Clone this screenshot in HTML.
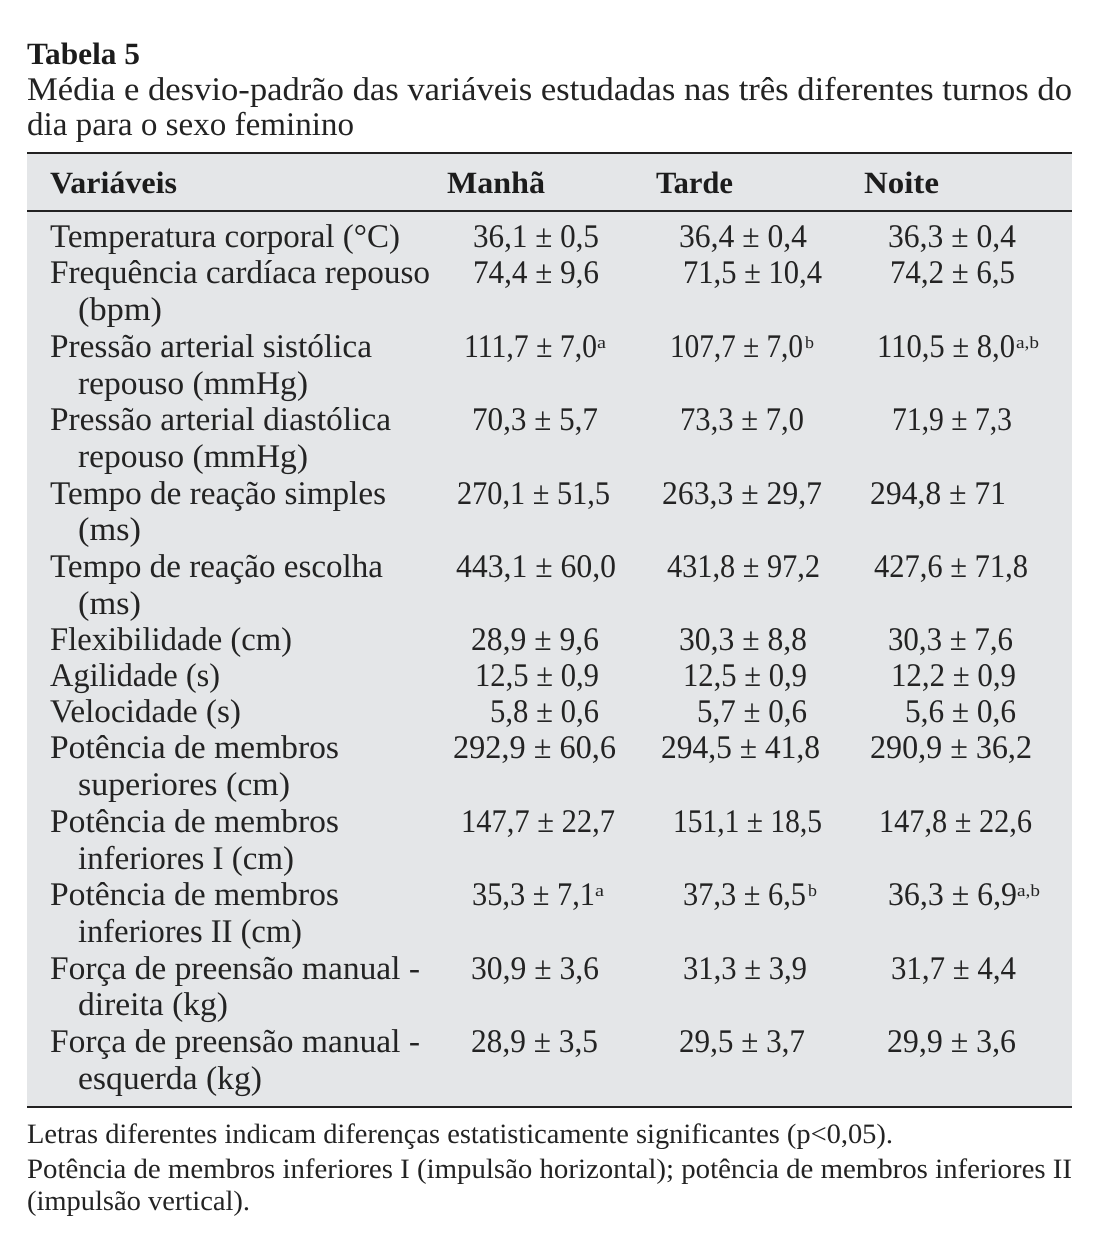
<!DOCTYPE html>
<html lang="pt">
<head>
<meta charset="utf-8">
<title>Tabela 5</title>
<style>
html,body{margin:0;padding:0;background:#fff;width:1108px;height:1254px;overflow:hidden}
svg{display:block}
text{font-family:"Liberation Serif",serif;font-size:33px;fill:#232323;white-space:pre}
.t{font-weight:bold;font-size:31px;fill:#1c1c1c}
.f{font-size:28px}
.s{font-size:17px}
</style>
</head>
<body>
<svg width="1108" height="1254" viewBox="0 0 1108 1254" xmlns="http://www.w3.org/2000/svg" text-rendering="geometricPrecision">
<rect x="27" y="153" width="1045" height="954" fill="#e4e6e8"/>
<rect x="27" y="152" width="1045" height="2" fill="#222"/>
<rect x="27" y="210" width="1045" height="2" fill="#222"/>
<rect x="27" y="1106" width="1045" height="2" fill="#222"/>

<text class="t" x="27" y="64" textLength="113" lengthAdjust="spacingAndGlyphs">Tabela 5</text>
<text x="27" y="100" textLength="1045" lengthAdjust="spacingAndGlyphs">Média e desvio-padrão das variáveis estudadas nas três diferentes turnos do</text>
<text x="27" y="135" textLength="327" lengthAdjust="spacingAndGlyphs">dia para o sexo feminino</text>

<text class="t" x="50" y="193" textLength="127" lengthAdjust="spacingAndGlyphs">Variáveis</text>
<text class="t" x="447" y="193" textLength="98" lengthAdjust="spacingAndGlyphs">Manhã</text>
<text class="t" x="656" y="193" textLength="77" lengthAdjust="spacingAndGlyphs">Tarde</text>
<text class="t" x="864" y="193" textLength="75" lengthAdjust="spacingAndGlyphs">Noite</text>

<text x="50" y="247" textLength="350" lengthAdjust="spacingAndGlyphs">Temperatura corporal (°C)</text>
<text x="473" y="247" textLength="126" lengthAdjust="spacingAndGlyphs">36,1 ± 0,5</text>
<text x="679" y="247" textLength="128" lengthAdjust="spacingAndGlyphs">36,4 ± 0,4</text>
<text x="888" y="247" textLength="128" lengthAdjust="spacingAndGlyphs">36,3 ± 0,4</text>

<text x="50" y="283" textLength="380" lengthAdjust="spacingAndGlyphs">Frequência cardíaca repouso</text>
<text x="78" y="320" textLength="84" lengthAdjust="spacingAndGlyphs">(bpm)</text>
<text x="473" y="283" textLength="126" lengthAdjust="spacingAndGlyphs">74,4 ± 9,6</text>
<text x="683" y="283" textLength="139" lengthAdjust="spacingAndGlyphs">71,5 ± 10,4</text>
<text x="890" y="283" textLength="125" lengthAdjust="spacingAndGlyphs">74,2 ± 6,5</text>

<text x="50" y="357" textLength="322" lengthAdjust="spacingAndGlyphs">Pressão arterial sistólica</text>
<text x="78" y="394" textLength="230" lengthAdjust="spacingAndGlyphs">repouso (mmHg)</text>
<text x="464" y="357" textLength="133" lengthAdjust="spacingAndGlyphs">111,7 ± 7,0</text>
<text class="s" x="597" y="348" textLength="9" lengthAdjust="spacingAndGlyphs">a</text>
<text x="670" y="357" textLength="133" lengthAdjust="spacingAndGlyphs">107,7 ± 7,0</text>
<text class="s" x="805" y="348" textLength="9" lengthAdjust="spacingAndGlyphs">b</text>
<text x="877" y="357" textLength="138" lengthAdjust="spacingAndGlyphs">110,5 ± 8,0</text>
<text class="s" x="1016" y="348" textLength="23" lengthAdjust="spacingAndGlyphs">a,b</text>

<text x="50" y="430" textLength="341" lengthAdjust="spacingAndGlyphs">Pressão arterial diastólica</text>
<text x="78" y="467" textLength="230" lengthAdjust="spacingAndGlyphs">repouso (mmHg)</text>
<text x="472" y="430" textLength="126" lengthAdjust="spacingAndGlyphs">70,3 ± 5,7</text>
<text x="680" y="430" textLength="124" lengthAdjust="spacingAndGlyphs">73,3 ± 7,0</text>
<text x="892" y="430" textLength="120" lengthAdjust="spacingAndGlyphs">71,9 ± 7,3</text>

<text x="50" y="504" textLength="336" lengthAdjust="spacingAndGlyphs">Tempo de reação simples</text>
<text x="78" y="540" textLength="63" lengthAdjust="spacingAndGlyphs">(ms)</text>
<text x="457" y="504" textLength="153" lengthAdjust="spacingAndGlyphs">270,1 ± 51,5</text>
<text x="662" y="504" textLength="160" lengthAdjust="spacingAndGlyphs">263,3 ± 29,7</text>
<text x="870" y="504" textLength="136" lengthAdjust="spacingAndGlyphs">294,8 ± 71</text>

<text x="50" y="577" textLength="333" lengthAdjust="spacingAndGlyphs">Tempo de reação escolha</text>
<text x="78" y="614" textLength="63" lengthAdjust="spacingAndGlyphs">(ms)</text>
<text x="456" y="577" textLength="160" lengthAdjust="spacingAndGlyphs">443,1 ± 60,0</text>
<text x="667" y="577" textLength="153" lengthAdjust="spacingAndGlyphs">431,8 ± 97,2</text>
<text x="874" y="577" textLength="154" lengthAdjust="spacingAndGlyphs">427,6 ± 71,8</text>

<text x="50" y="650" textLength="242" lengthAdjust="spacingAndGlyphs">Flexibilidade (cm)</text>
<text x="471" y="650" textLength="128" lengthAdjust="spacingAndGlyphs">28,9 ± 9,6</text>
<text x="679" y="650" textLength="128" lengthAdjust="spacingAndGlyphs">30,3 ± 8,8</text>
<text x="888" y="650" textLength="125" lengthAdjust="spacingAndGlyphs">30,3 ± 7,6</text>

<text x="50" y="686" textLength="170" lengthAdjust="spacingAndGlyphs">Agilidade (s)</text>
<text x="475" y="686" textLength="124" lengthAdjust="spacingAndGlyphs">12,5 ± 0,9</text>
<text x="683" y="686" textLength="124" lengthAdjust="spacingAndGlyphs">12,5 ± 0,9</text>
<text x="891" y="686" textLength="125" lengthAdjust="spacingAndGlyphs">12,2 ± 0,9</text>

<text x="50" y="722" textLength="191" lengthAdjust="spacingAndGlyphs">Velocidade (s)</text>
<text x="490" y="722" textLength="109" lengthAdjust="spacingAndGlyphs">5,8 ± 0,6</text>
<text x="697" y="722" textLength="110" lengthAdjust="spacingAndGlyphs">5,7 ± 0,6</text>
<text x="905" y="722" textLength="111" lengthAdjust="spacingAndGlyphs">5,6 ± 0,6</text>

<text x="50" y="758" textLength="289" lengthAdjust="spacingAndGlyphs">Potência de membros</text>
<text x="78" y="795" textLength="212" lengthAdjust="spacingAndGlyphs">superiores (cm)</text>
<text x="453" y="758" textLength="163" lengthAdjust="spacingAndGlyphs">292,9 ± 60,6</text>
<text x="661" y="758" textLength="159" lengthAdjust="spacingAndGlyphs">294,5 ± 41,8</text>
<text x="870" y="758" textLength="162" lengthAdjust="spacingAndGlyphs">290,9 ± 36,2</text>

<text x="50" y="832" textLength="289" lengthAdjust="spacingAndGlyphs">Potência de membros</text>
<text x="78" y="869" textLength="216" lengthAdjust="spacingAndGlyphs">inferiores I (cm)</text>
<text x="461" y="832" textLength="154" lengthAdjust="spacingAndGlyphs">147,7 ± 22,7</text>
<text x="673" y="832" textLength="149" lengthAdjust="spacingAndGlyphs">151,1 ± 18,5</text>
<text x="879" y="832" textLength="153" lengthAdjust="spacingAndGlyphs">147,8 ± 22,6</text>

<text x="50" y="905" textLength="289" lengthAdjust="spacingAndGlyphs">Potência de membros</text>
<text x="78" y="942" textLength="224" lengthAdjust="spacingAndGlyphs">inferiores II (cm)</text>
<text x="472" y="905" textLength="123" lengthAdjust="spacingAndGlyphs">35,3 ± 7,1</text>
<text class="s" x="595" y="896" textLength="9" lengthAdjust="spacingAndGlyphs">a</text>
<text x="683" y="905" textLength="123" lengthAdjust="spacingAndGlyphs">37,3 ± 6,5</text>
<text class="s" x="808" y="896" textLength="9" lengthAdjust="spacingAndGlyphs">b</text>
<text x="888" y="905" textLength="129" lengthAdjust="spacingAndGlyphs">36,3 ± 6,9</text>
<text class="s" x="1017" y="896" textLength="23" lengthAdjust="spacingAndGlyphs">a,b</text>

<text x="50" y="979" textLength="370" lengthAdjust="spacingAndGlyphs">Força de preensão manual -</text>
<text x="78" y="1015" textLength="150" lengthAdjust="spacingAndGlyphs">direita (kg)</text>
<text x="471" y="979" textLength="128" lengthAdjust="spacingAndGlyphs">30,9 ± 3,6</text>
<text x="683" y="979" textLength="124" lengthAdjust="spacingAndGlyphs">31,3 ± 3,9</text>
<text x="891" y="979" textLength="125" lengthAdjust="spacingAndGlyphs">31,7 ± 4,4</text>

<text x="50" y="1052" textLength="370" lengthAdjust="spacingAndGlyphs">Força de preensão manual -</text>
<text x="78" y="1089" textLength="184" lengthAdjust="spacingAndGlyphs">esquerda (kg)</text>
<text x="471" y="1052" textLength="127" lengthAdjust="spacingAndGlyphs">28,9 ± 3,5</text>
<text x="679" y="1052" textLength="126" lengthAdjust="spacingAndGlyphs">29,5 ± 3,7</text>
<text x="887" y="1052" textLength="129" lengthAdjust="spacingAndGlyphs">29,9 ± 3,6</text>

<text class="f" x="27" y="1143" textLength="866" lengthAdjust="spacingAndGlyphs">Letras diferentes indicam diferenças estatisticamente significantes (p&lt;0,05).</text>
<text class="f" x="27" y="1178" textLength="1045" lengthAdjust="spacingAndGlyphs">Potência de membros inferiores I (impulsão horizontal); potência de membros inferiores II</text>
<text class="f" x="27" y="1210" textLength="223" lengthAdjust="spacingAndGlyphs">(impulsão vertical).</text>
</svg>
</body>
</html>
